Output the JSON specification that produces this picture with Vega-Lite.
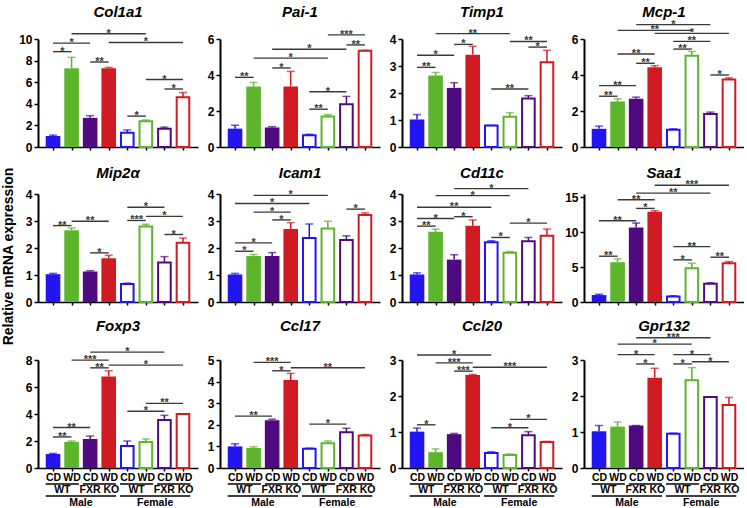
{
"$schema": "https://vega.github.io/schema/vega-lite/v6.json",
"padding": {"left": 1, "top": 4, "right": 0, "bottom": 0},
"title": {"text": "Relative mRNA expression", "orient": "left", "anchor": "middle", "fontSize": 14, "fontWeight": "bold", "font": "Liberation Sans", "color": "black", "offset": 0},
"spacing": 11,
"datasets": {
"bars": [
{"g":"Col1a1","b":1,"m":1.02,"h":1.1},{"g":"Col1a1","b":2,"m":7.3,"h":8.3},{"g":"Col1a1","b":3,"m":2.7,"h":2.9},{"g":"Col1a1","b":4,"m":7.3,"h":7.37},{"g":"Col1a1","b":5,"m":1.33,"h":1.58},{"g":"Col1a1","b":6,"m":2.38,"h":2.5},{"g":"Col1a1","b":7,"m":1.68,"h":1.84},{"g":"Col1a1","b":8,"m":4.6,"h":5.05},
{"g":"Pai-1","b":1,"m":1.02,"h":1.21},{"g":"Pai-1","b":2,"m":3.36,"h":3.59},{"g":"Pai-1","b":3,"m":1.08,"h":1.13},{"g":"Pai-1","b":4,"m":3.36,"h":4.2},{"g":"Pai-1","b":5,"m":0.65,"h":0.71},{"g":"Pai-1","b":6,"m":1.69,"h":1.8},{"g":"Pai-1","b":7,"m":2.38,"h":2.81},{"g":"Pai-1","b":8,"m":5.35,"h":5.37},
{"g":"Timp1","b":1,"m":1.02,"h":1.2},{"g":"Timp1","b":2,"m":2.65,"h":2.76},{"g":"Timp1","b":3,"m":2.19,"h":2.38},{"g":"Timp1","b":4,"m":3.42,"h":3.73},{"g":"Timp1","b":5,"m":0.8,"h":0.8},{"g":"Timp1","b":6,"m":1.12,"h":1.27},{"g":"Timp1","b":7,"m":1.8,"h":1.9},{"g":"Timp1","b":8,"m":3.14,"h":3.58},
{"g":"Mcp-1","b":1,"m":1.01,"h":1.16},{"g":"Mcp-1","b":2,"m":2.53,"h":2.68},{"g":"Mcp-1","b":3,"m":2.68,"h":2.77},{"g":"Mcp-1","b":4,"m":4.43,"h":4.52},{"g":"Mcp-1","b":5,"m":0.96,"h":1.01},{"g":"Mcp-1","b":6,"m":5.07,"h":5.31},{"g":"Mcp-1","b":7,"m":1.83,"h":1.94},{"g":"Mcp-1","b":8,"m":3.75,"h":3.84},
{"g":"Mip2α","b":1,"m":1.03,"h":1.06},{"g":"Mip2α","b":2,"m":2.66,"h":2.74},{"g":"Mip2α","b":3,"m":1.13,"h":1.16},{"g":"Mip2α","b":4,"m":1.62,"h":1.73},{"g":"Mip2α","b":5,"m":0.67,"h":0.7},{"g":"Mip2α","b":6,"m":2.8,"h":2.88},{"g":"Mip2α","b":7,"m":1.46,"h":1.68},{"g":"Mip2α","b":8,"m":2.19,"h":2.37},
{"g":"Icam1","b":1,"m":1.02,"h":1.06},{"g":"Icam1","b":2,"m":1.7,"h":1.76},{"g":"Icam1","b":3,"m":1.7,"h":1.83},{"g":"Icam1","b":4,"m":2.7,"h":2.94},{"g":"Icam1","b":5,"m":2.37,"h":2.89},{"g":"Icam1","b":6,"m":2.72,"h":2.99},{"g":"Icam1","b":7,"m":2.3,"h":2.45},{"g":"Icam1","b":8,"m":3.22,"h":3.3},
{"g":"Cd11c","b":1,"m":1.02,"h":1.08},{"g":"Cd11c","b":2,"m":2.6,"h":2.7},{"g":"Cd11c","b":3,"m":1.57,"h":1.75},{"g":"Cd11c","b":4,"m":2.82,"h":3.04},{"g":"Cd11c","b":5,"m":2.21,"h":2.27},{"g":"Cd11c","b":6,"m":1.82,"h":1.87},{"g":"Cd11c","b":7,"m":2.25,"h":2.39},{"g":"Cd11c","b":8,"m":2.45,"h":2.7},
{"g":"Saa1","b":1,"m":1.0,"h":1.12},{"g":"Saa1","b":2,"m":5.71,"h":6.19},{"g":"Saa1","b":3,"m":10.71,"h":11.33},{"g":"Saa1","b":4,"m":12.95,"h":13.1},{"g":"Saa1","b":5,"m":0.8,"h":0.9},{"g":"Saa1","b":6,"m":4.86,"h":5.57},{"g":"Saa1","b":7,"m":2.62,"h":2.76},{"g":"Saa1","b":8,"m":5.57,"h":5.81},
{"g":"Foxp3","b":1,"m":1.04,"h":1.08},{"g":"Foxp3","b":2,"m":1.93,"h":2.0},{"g":"Foxp3","b":3,"m":2.15,"h":2.37},{"g":"Foxp3","b":4,"m":6.77,"h":7.2},{"g":"Foxp3","b":5,"m":1.63,"h":2.0},{"g":"Foxp3","b":6,"m":1.93,"h":2.15},{"g":"Foxp3","b":7,"m":3.56,"h":3.9},{"g":"Foxp3","b":8,"m":4.0,"h":4.02},
{"g":"Ccl17","b":1,"m":1.0,"h":1.12},{"g":"Ccl17","b":2,"m":0.93,"h":0.98},{"g":"Ccl17","b":3,"m":2.21,"h":2.26},{"g":"Ccl17","b":4,"m":4.07,"h":4.38},{"g":"Ccl17","b":5,"m":0.89,"h":0.92},{"g":"Ccl17","b":6,"m":1.15,"h":1.25},{"g":"Ccl17","b":7,"m":1.65,"h":1.84},{"g":"Ccl17","b":8,"m":1.5,"h":1.55},
{"g":"Ccl20","b":1,"m":1.01,"h":1.11},{"g":"Ccl20","b":2,"m":0.44,"h":0.53},{"g":"Ccl20","b":3,"m":0.94,"h":0.96},{"g":"Ccl20","b":4,"m":2.58,"h":2.6},{"g":"Ccl20","b":5,"m":0.42,"h":0.45},{"g":"Ccl20","b":6,"m":0.36,"h":0.39},{"g":"Ccl20","b":7,"m":0.91,"h":1.01},{"g":"Ccl20","b":8,"m":0.72,"h":0.74},
{"g":"Gpr132","b":1,"m":1.02,"h":1.18},{"g":"Gpr132","b":2,"m":1.15,"h":1.28},{"g":"Gpr132","b":3,"m":1.18,"h":1.18},{"g":"Gpr132","b":4,"m":2.51,"h":2.77},{"g":"Gpr132","b":5,"m":0.95,"h":0.97},{"g":"Gpr132","b":6,"m":2.44,"h":2.79},{"g":"Gpr132","b":7,"m":1.97,"h":1.97},{"g":"Gpr132","b":8,"m":1.75,"h":1.96}
],
"sig": [
{"g":"Col1a1","f":1,"t":2,"y":8.83,"s":"*"},{"g":"Col1a1","f":1,"t":3,"y":9.62,"s":"*"},{"g":"Col1a1","f":3,"t":4,"y":7.87,"s":"**"},{"g":"Col1a1","f":2,"t":6,"y":10.48,"s":"*"},{"g":"Col1a1","f":4,"t":8,"y":9.68,"s":"*"},{"g":"Col1a1","f":5,"t":6,"y":2.86,"s":"*"},{"g":"Col1a1","f":6,"t":8,"y":6.25,"s":"*"},{"g":"Col1a1","f":7,"t":8,"y":5.37,"s":"*"},
{"g":"Pai-1","f":1,"t":2,"y":3.87,"s":"**"},{"g":"Pai-1","f":3,"t":4,"y":4.39,"s":"*"},{"g":"Pai-1","f":2,"t":6,"y":4.94,"s":"*"},{"g":"Pai-1","f":3,"t":7,"y":5.43,"s":"*"},{"g":"Pai-1","f":5,"t":6,"y":2.1,"s":"**"},{"g":"Pai-1","f":5,"t":7,"y":3.07,"s":"*"},{"g":"Pai-1","f":6,"t":8,"y":6.23,"s":"***"},{"g":"Pai-1","f":7,"t":8,"y":5.67,"s":"**"},
{"g":"Timp1","f":1,"t":2,"y":2.95,"s":"**"},{"g":"Timp1","f":1,"t":3,"y":3.4,"s":"*"},{"g":"Timp1","f":3,"t":4,"y":3.8,"s":"*"},{"g":"Timp1","f":2,"t":6,"y":4.2,"s":"**"},{"g":"Timp1","f":5,"t":7,"y":2.15,"s":"**"},{"g":"Timp1","f":6,"t":8,"y":3.91,"s":"**"},{"g":"Timp1","f":7,"t":8,"y":3.7,"s":"*"},
{"g":"Mcp-1","f":1,"t":2,"y":2.82,"s":"**"},{"g":"Mcp-1","f":1,"t":3,"y":3.41,"s":"**"},{"g":"Mcp-1","f":2,"t":4,"y":5.17,"s":"**"},{"g":"Mcp-1","f":3,"t":4,"y":4.65,"s":"**"},{"g":"Mcp-1","f":3,"t":7,"y":6.8,"s":"*"},{"g":"Mcp-1","f":2,"t":6,"y":6.48,"s":"**"},{"g":"Mcp-1","f":4,"t":8,"y":6.31,"s":"*"},{"g":"Mcp-1","f":5,"t":7,"y":5.87,"s":"**"},{"g":"Mcp-1","f":5,"t":6,"y":5.44,"s":"**"},{"g":"Mcp-1","f":7,"t":8,"y":4.0,"s":"*"},
{"g":"Mip2α","f":1,"t":2,"y":2.83,"s":"**"},{"g":"Mip2α","f":2,"t":4,"y":2.99,"s":"**"},{"g":"Mip2α","f":3,"t":4,"y":1.82,"s":"*"},{"g":"Mip2α","f":5,"t":7,"y":3.51,"s":"*"},{"g":"Mip2α","f":5,"t":6,"y":3.02,"s":"***"},{"g":"Mip2α","f":6,"t":8,"y":3.17,"s":"*"},{"g":"Mip2α","f":7,"t":8,"y":2.5,"s":"*"},
{"g":"Icam1","f":1,"t":2,"y":1.88,"s":"*"},{"g":"Icam1","f":1,"t":3,"y":2.19,"s":"*"},{"g":"Icam1","f":3,"t":4,"y":3.04,"s":"*"},{"g":"Icam1","f":2,"t":4,"y":3.33,"s":"*"},{"g":"Icam1","f":1,"t":5,"y":3.65,"s":"*"},{"g":"Icam1","f":2,"t":6,"y":3.95,"s":"*"},{"g":"Icam1","f":7,"t":8,"y":3.44,"s":"*"},
{"g":"Cd11c","f":1,"t":2,"y":2.81,"s":"**"},{"g":"Cd11c","f":1,"t":3,"y":3.09,"s":"*"},{"g":"Cd11c","f":3,"t":4,"y":3.16,"s":"*"},{"g":"Cd11c","f":1,"t":5,"y":3.51,"s":"**"},{"g":"Cd11c","f":2,"t":6,"y":3.94,"s":"*"},{"g":"Cd11c","f":3,"t":7,"y":4.2,"s":"*"},{"g":"Cd11c","f":5,"t":6,"y":2.39,"s":"*"},{"g":"Cd11c","f":6,"t":8,"y":2.92,"s":"*"},
{"g":"Saa1","f":1,"t":2,"y":6.57,"s":"**"},{"g":"Saa1","f":1,"t":3,"y":11.67,"s":"**"},{"g":"Saa1","f":3,"t":4,"y":13.43,"s":"*"},{"g":"Saa1","f":2,"t":4,"y":14.67,"s":"**"},{"g":"Saa1","f":3,"t":7,"y":15.62,"s":"**"},{"g":"Saa1","f":4,"t":8,"y":16.76,"s":"***"},{"g":"Saa1","f":5,"t":6,"y":6.05,"s":"*"},{"g":"Saa1","f":5,"t":7,"y":7.95,"s":"**"},{"g":"Saa1","f":7,"t":8,"y":6.43,"s":"**"},
{"g":"Foxp3","f":1,"t":2,"y":2.3,"s":"**"},{"g":"Foxp3","f":1,"t":3,"y":3.0,"s":"**"},{"g":"Foxp3","f":2,"t":4,"y":7.99,"s":"***"},{"g":"Foxp3","f":3,"t":4,"y":7.42,"s":"**"},{"g":"Foxp3","f":3,"t":7,"y":8.58,"s":"*"},{"g":"Foxp3","f":4,"t":8,"y":7.62,"s":"*"},{"g":"Foxp3","f":5,"t":7,"y":4.2,"s":"*"},{"g":"Foxp3","f":6,"t":8,"y":4.79,"s":"**"},
{"g":"Ccl17","f":1,"t":3,"y":2.4,"s":"**"},{"g":"Ccl17","f":2,"t":4,"y":4.89,"s":"***"},{"g":"Ccl17","f":3,"t":4,"y":4.5,"s":"*"},{"g":"Ccl17","f":4,"t":8,"y":4.64,"s":"**"},{"g":"Ccl17","f":5,"t":7,"y":2.03,"s":"*"},
{"g":"Ccl20","f":1,"t":2,"y":1.2,"s":"*"},{"g":"Ccl20","f":1,"t":5,"y":3.14,"s":"*"},{"g":"Ccl20","f":2,"t":4,"y":2.92,"s":"***"},{"g":"Ccl20","f":3,"t":4,"y":2.69,"s":"***"},{"g":"Ccl20","f":4,"t":8,"y":2.8,"s":"***"},{"g":"Ccl20","f":5,"t":7,"y":1.12,"s":"*"},{"g":"Ccl20","f":6,"t":8,"y":1.35,"s":"*"},
{"g":"Gpr132","f":2,"t":4,"y":3.15,"s":"*"},{"g":"Gpr132","f":3,"t":4,"y":2.89,"s":"*"},{"g":"Gpr132","f":2,"t":6,"y":3.44,"s":"*"},{"g":"Gpr132","f":3,"t":7,"y":3.62,"s":"***"},{"g":"Gpr132","f":5,"t":7,"y":3.15,"s":"*"},{"g":"Gpr132","f":5,"t":6,"y":2.89,"s":"*"},{"g":"Gpr132","f":6,"t":8,"y":2.95,"s":"*"}
],
"grp": [
{"lab":"WT","a":1,"z":2,"tier":1},{"lab":"FXR KO","a":3,"z":4,"tier":1},{"lab":"WT","a":5,"z":6,"tier":1},{"lab":"FXR KO","a":7,"z":8,"tier":1},
{"lab":"Male","a":1,"z":4,"tier":2},{"lab":"Female","a":5,"z":8,"tier":2}
]
},
"vconcat": [
{"hconcat": [
{"width":160,"height":108,"resolve":{"axis":{"x":"independent","y":"independent"}},"layer":[
{"data":{"name":"bars"},"transform":[{"filter":"datum.g == 'Col1a1' && datum.b <= 4"}],"mark":{"type":"bar","orient":"vertical","size":14.6},"encoding":{"x":{"field":"b","type":"quantitative","scale":{"domain":[0.46,8.54],"nice":false,"zero":false},"axis":{"orient":"bottom","values":[1,2,3,4,5,6,7,8],"labels":false,"title":null,"tickSize":3,"minExtent":8,"labelOverlap":false}},"y":{"field":"m","type":"quantitative","stack":null,"scale":{"domain":[0,10],"nice":false},"axis":{"orient":"left","values":[0,2,4,6,8,10],"title":null,"labelOverlap":false}},"color":{"field":"b","type":"ordinal","scale":{"domain":[1,2,3,4,5,6,7,8],"range":["#2314f2","#5cb52b","#4f0a82","#cf1b21","#2314f2","#5cb52b","#4f0a82","#cf1b21"]},"legend":null}}},
{"data":{"name":"bars"},"transform":[{"filter":"datum.g == 'Col1a1' && datum.b > 4"}],"mark":{"type":"bar","orient":"vertical","size":12.6,"fill":"white","strokeWidth":2},"encoding":{"x":{"field":"b","type":"quantitative","axis":null},"y":{"field":"m","type":"quantitative","stack":null,"axis":null},"stroke":{"field":"b","type":"ordinal","scale":{"domain":[1,2,3,4,5,6,7,8],"range":["#2314f2","#5cb52b","#4f0a82","#cf1b21","#2314f2","#5cb52b","#4f0a82","#cf1b21"]},"legend":null}}},
{"data":{"name":"bars"},"transform":[{"filter":"datum.g == 'Col1a1'"}],"mark":{"type":"rule","strokeWidth":1.5},"encoding":{"x":{"field":"b","type":"quantitative","axis":null},"y":{"field":"m","type":"quantitative","axis":null},"y2":{"field":"h"},"color":{"field":"b","type":"ordinal","legend":null}}},
{"data":{"name":"bars"},"transform":[{"filter":"datum.g == 'Col1a1'"}],"mark":{"type":"tick","orient":"horizontal","size":8,"thickness":1.5},"encoding":{"x":{"field":"b","type":"quantitative","axis":null},"y":{"field":"h","type":"quantitative","axis":null},"color":{"field":"b","type":"ordinal","legend":null}}},
{"data":{"name":"sig"},"transform":[{"filter":"datum.g == 'Col1a1'"}],"mark":{"type":"rule","color":"#3a3a3a","strokeWidth":1.4},"encoding":{"x":{"field":"f","type":"quantitative","axis":null},"x2":{"field":"t"},"y":{"field":"y","type":"quantitative","axis":null}}},
{"data":{"name":"sig"},"transform":[{"filter":"datum.g == 'Col1a1'"},{"fold":["f","t"],"as":["k","pos"]}],"mark":{"type":"text","fontSize":11,"fontWeight":"bold","color":"#3a3a3a","baseline":"middle"},"encoding":{"x":{"field":"pos","aggregate":"mean","type":"quantitative","axis":null},"y":{"field":"y","type":"quantitative","axis":null},"text":{"field":"s"},"detail":{"field":"f","type":"nominal"}}},
{"data":{"name":"bars"},"transform":[{"filter":"datum.g == 'Col1a1' && datum.b == 1"}],"mark":{"type":"text","fontSize":15,"fontStyle":"italic","fontWeight":"bold","color":"black","baseline":"alphabetic","dy":-22.5},"encoding":{"x":{"datum":4.5,"axis":null},"y":{"datum":10,"axis":null},"text":{"field":"g"}}}
]},
{"width":160,"height":108,"resolve":{"axis":{"x":"independent","y":"independent"}},"layer":[
{"data":{"name":"bars"},"transform":[{"filter":"datum.g == 'Pai-1' && datum.b <= 4"}],"mark":{"type":"bar","orient":"vertical","size":14.6},"encoding":{"x":{"field":"b","type":"quantitative","scale":{"domain":[0.46,8.54],"nice":false,"zero":false},"axis":{"orient":"bottom","values":[1,2,3,4,5,6,7,8],"labels":false,"title":null,"tickSize":3,"minExtent":8,"labelOverlap":false}},"y":{"field":"m","type":"quantitative","stack":null,"scale":{"domain":[0,6],"nice":false},"axis":{"orient":"left","values":[0,2,4,6],"title":null,"labelOverlap":false}},"color":{"field":"b","type":"ordinal","scale":{"domain":[1,2,3,4,5,6,7,8],"range":["#2314f2","#5cb52b","#4f0a82","#cf1b21","#2314f2","#5cb52b","#4f0a82","#cf1b21"]},"legend":null}}},
{"data":{"name":"bars"},"transform":[{"filter":"datum.g == 'Pai-1' && datum.b > 4"}],"mark":{"type":"bar","orient":"vertical","size":12.6,"fill":"white","strokeWidth":2},"encoding":{"x":{"field":"b","type":"quantitative","axis":null},"y":{"field":"m","type":"quantitative","stack":null,"axis":null},"stroke":{"field":"b","type":"ordinal","scale":{"domain":[1,2,3,4,5,6,7,8],"range":["#2314f2","#5cb52b","#4f0a82","#cf1b21","#2314f2","#5cb52b","#4f0a82","#cf1b21"]},"legend":null}}},
{"data":{"name":"bars"},"transform":[{"filter":"datum.g == 'Pai-1'"}],"mark":{"type":"rule","strokeWidth":1.5},"encoding":{"x":{"field":"b","type":"quantitative","axis":null},"y":{"field":"m","type":"quantitative","axis":null},"y2":{"field":"h"},"color":{"field":"b","type":"ordinal","legend":null}}},
{"data":{"name":"bars"},"transform":[{"filter":"datum.g == 'Pai-1'"}],"mark":{"type":"tick","orient":"horizontal","size":8,"thickness":1.5},"encoding":{"x":{"field":"b","type":"quantitative","axis":null},"y":{"field":"h","type":"quantitative","axis":null},"color":{"field":"b","type":"ordinal","legend":null}}},
{"data":{"name":"sig"},"transform":[{"filter":"datum.g == 'Pai-1'"}],"mark":{"type":"rule","color":"#3a3a3a","strokeWidth":1.4},"encoding":{"x":{"field":"f","type":"quantitative","axis":null},"x2":{"field":"t"},"y":{"field":"y","type":"quantitative","axis":null}}},
{"data":{"name":"sig"},"transform":[{"filter":"datum.g == 'Pai-1'"},{"fold":["f","t"],"as":["k","pos"]}],"mark":{"type":"text","fontSize":11,"fontWeight":"bold","color":"#3a3a3a","baseline":"middle"},"encoding":{"x":{"field":"pos","aggregate":"mean","type":"quantitative","axis":null},"y":{"field":"y","type":"quantitative","axis":null},"text":{"field":"s"},"detail":{"field":"f","type":"nominal"}}},
{"data":{"name":"bars"},"transform":[{"filter":"datum.g == 'Pai-1' && datum.b == 1"}],"mark":{"type":"text","fontSize":15,"fontStyle":"italic","fontWeight":"bold","color":"black","baseline":"alphabetic","dy":-22.5},"encoding":{"x":{"datum":4.5,"axis":null},"y":{"datum":6,"axis":null},"text":{"field":"g"}}}
]},
{"width":160,"height":108,"resolve":{"axis":{"x":"independent","y":"independent"}},"layer":[
{"data":{"name":"bars"},"transform":[{"filter":"datum.g == 'Timp1' && datum.b <= 4"}],"mark":{"type":"bar","orient":"vertical","size":14.6},"encoding":{"x":{"field":"b","type":"quantitative","scale":{"domain":[0.46,8.54],"nice":false,"zero":false},"axis":{"orient":"bottom","values":[1,2,3,4,5,6,7,8],"labels":false,"title":null,"tickSize":3,"minExtent":8,"labelOverlap":false}},"y":{"field":"m","type":"quantitative","stack":null,"scale":{"domain":[0,4],"nice":false},"axis":{"orient":"left","values":[0,1,2,3,4],"title":null,"labelOverlap":false}},"color":{"field":"b","type":"ordinal","scale":{"domain":[1,2,3,4,5,6,7,8],"range":["#2314f2","#5cb52b","#4f0a82","#cf1b21","#2314f2","#5cb52b","#4f0a82","#cf1b21"]},"legend":null}}},
{"data":{"name":"bars"},"transform":[{"filter":"datum.g == 'Timp1' && datum.b > 4"}],"mark":{"type":"bar","orient":"vertical","size":12.6,"fill":"white","strokeWidth":2},"encoding":{"x":{"field":"b","type":"quantitative","axis":null},"y":{"field":"m","type":"quantitative","stack":null,"axis":null},"stroke":{"field":"b","type":"ordinal","scale":{"domain":[1,2,3,4,5,6,7,8],"range":["#2314f2","#5cb52b","#4f0a82","#cf1b21","#2314f2","#5cb52b","#4f0a82","#cf1b21"]},"legend":null}}},
{"data":{"name":"bars"},"transform":[{"filter":"datum.g == 'Timp1'"}],"mark":{"type":"rule","strokeWidth":1.5},"encoding":{"x":{"field":"b","type":"quantitative","axis":null},"y":{"field":"m","type":"quantitative","axis":null},"y2":{"field":"h"},"color":{"field":"b","type":"ordinal","legend":null}}},
{"data":{"name":"bars"},"transform":[{"filter":"datum.g == 'Timp1'"}],"mark":{"type":"tick","orient":"horizontal","size":8,"thickness":1.5},"encoding":{"x":{"field":"b","type":"quantitative","axis":null},"y":{"field":"h","type":"quantitative","axis":null},"color":{"field":"b","type":"ordinal","legend":null}}},
{"data":{"name":"sig"},"transform":[{"filter":"datum.g == 'Timp1'"}],"mark":{"type":"rule","color":"#3a3a3a","strokeWidth":1.4},"encoding":{"x":{"field":"f","type":"quantitative","axis":null},"x2":{"field":"t"},"y":{"field":"y","type":"quantitative","axis":null}}},
{"data":{"name":"sig"},"transform":[{"filter":"datum.g == 'Timp1'"},{"fold":["f","t"],"as":["k","pos"]}],"mark":{"type":"text","fontSize":11,"fontWeight":"bold","color":"#3a3a3a","baseline":"middle"},"encoding":{"x":{"field":"pos","aggregate":"mean","type":"quantitative","axis":null},"y":{"field":"y","type":"quantitative","axis":null},"text":{"field":"s"},"detail":{"field":"f","type":"nominal"}}},
{"data":{"name":"bars"},"transform":[{"filter":"datum.g == 'Timp1' && datum.b == 1"}],"mark":{"type":"text","fontSize":15,"fontStyle":"italic","fontWeight":"bold","color":"black","baseline":"alphabetic","dy":-22.5},"encoding":{"x":{"datum":4.5,"axis":null},"y":{"datum":4,"axis":null},"text":{"field":"g"}}}
]},
{"width":160,"height":108,"resolve":{"axis":{"x":"independent","y":"independent"}},"layer":[
{"data":{"name":"bars"},"transform":[{"filter":"datum.g == 'Mcp-1' && datum.b <= 4"}],"mark":{"type":"bar","orient":"vertical","size":14.6},"encoding":{"x":{"field":"b","type":"quantitative","scale":{"domain":[0.46,8.54],"nice":false,"zero":false},"axis":{"orient":"bottom","values":[1,2,3,4,5,6,7,8],"labels":false,"title":null,"tickSize":3,"minExtent":8,"labelOverlap":false}},"y":{"field":"m","type":"quantitative","stack":null,"scale":{"domain":[0,6],"nice":false},"axis":{"orient":"left","values":[0,2,4,6],"title":null,"labelOverlap":false}},"color":{"field":"b","type":"ordinal","scale":{"domain":[1,2,3,4,5,6,7,8],"range":["#2314f2","#5cb52b","#4f0a82","#cf1b21","#2314f2","#5cb52b","#4f0a82","#cf1b21"]},"legend":null}}},
{"data":{"name":"bars"},"transform":[{"filter":"datum.g == 'Mcp-1' && datum.b > 4"}],"mark":{"type":"bar","orient":"vertical","size":12.6,"fill":"white","strokeWidth":2},"encoding":{"x":{"field":"b","type":"quantitative","axis":null},"y":{"field":"m","type":"quantitative","stack":null,"axis":null},"stroke":{"field":"b","type":"ordinal","scale":{"domain":[1,2,3,4,5,6,7,8],"range":["#2314f2","#5cb52b","#4f0a82","#cf1b21","#2314f2","#5cb52b","#4f0a82","#cf1b21"]},"legend":null}}},
{"data":{"name":"bars"},"transform":[{"filter":"datum.g == 'Mcp-1'"}],"mark":{"type":"rule","strokeWidth":1.5},"encoding":{"x":{"field":"b","type":"quantitative","axis":null},"y":{"field":"m","type":"quantitative","axis":null},"y2":{"field":"h"},"color":{"field":"b","type":"ordinal","legend":null}}},
{"data":{"name":"bars"},"transform":[{"filter":"datum.g == 'Mcp-1'"}],"mark":{"type":"tick","orient":"horizontal","size":8,"thickness":1.5},"encoding":{"x":{"field":"b","type":"quantitative","axis":null},"y":{"field":"h","type":"quantitative","axis":null},"color":{"field":"b","type":"ordinal","legend":null}}},
{"data":{"name":"sig"},"transform":[{"filter":"datum.g == 'Mcp-1'"}],"mark":{"type":"rule","color":"#3a3a3a","strokeWidth":1.4},"encoding":{"x":{"field":"f","type":"quantitative","axis":null},"x2":{"field":"t"},"y":{"field":"y","type":"quantitative","axis":null}}},
{"data":{"name":"sig"},"transform":[{"filter":"datum.g == 'Mcp-1'"},{"fold":["f","t"],"as":["k","pos"]}],"mark":{"type":"text","fontSize":11,"fontWeight":"bold","color":"#3a3a3a","baseline":"middle"},"encoding":{"x":{"field":"pos","aggregate":"mean","type":"quantitative","axis":null},"y":{"field":"y","type":"quantitative","axis":null},"text":{"field":"s"},"detail":{"field":"f","type":"nominal"}}},
{"data":{"name":"bars"},"transform":[{"filter":"datum.g == 'Mcp-1' && datum.b == 1"}],"mark":{"type":"text","fontSize":15,"fontStyle":"italic","fontWeight":"bold","color":"black","baseline":"alphabetic","dy":-22.5},"encoding":{"x":{"datum":4.5,"axis":null},"y":{"datum":6,"axis":null},"text":{"field":"g"}}}
]}
], "spacing": 22, "bounds": "flush"},
{"hconcat": [
{"width":160,"height":108,"resolve":{"axis":{"x":"independent","y":"independent"}},"layer":[
{"data":{"name":"bars"},"transform":[{"filter":"datum.g == 'Mip2α' && datum.b <= 4"}],"mark":{"type":"bar","orient":"vertical","size":14.6},"encoding":{"x":{"field":"b","type":"quantitative","scale":{"domain":[0.46,8.54],"nice":false,"zero":false},"axis":{"orient":"bottom","values":[1,2,3,4,5,6,7,8],"labels":false,"title":null,"tickSize":3,"labelOverlap":false}},"y":{"field":"m","type":"quantitative","stack":null,"scale":{"domain":[0,4],"nice":false},"axis":{"orient":"left","values":[0,1,2,3,4],"title":null,"labelOverlap":false}},"color":{"field":"b","type":"ordinal","scale":{"domain":[1,2,3,4,5,6,7,8],"range":["#2314f2","#5cb52b","#4f0a82","#cf1b21","#2314f2","#5cb52b","#4f0a82","#cf1b21"]},"legend":null}}},
{"data":{"name":"bars"},"transform":[{"filter":"datum.g == 'Mip2α' && datum.b > 4"}],"mark":{"type":"bar","orient":"vertical","size":12.6,"fill":"white","strokeWidth":2},"encoding":{"x":{"field":"b","type":"quantitative","axis":null},"y":{"field":"m","type":"quantitative","stack":null,"axis":null},"stroke":{"field":"b","type":"ordinal","scale":{"domain":[1,2,3,4,5,6,7,8],"range":["#2314f2","#5cb52b","#4f0a82","#cf1b21","#2314f2","#5cb52b","#4f0a82","#cf1b21"]},"legend":null}}},
{"data":{"name":"bars"},"transform":[{"filter":"datum.g == 'Mip2α'"}],"mark":{"type":"rule","strokeWidth":1.5},"encoding":{"x":{"field":"b","type":"quantitative","axis":null},"y":{"field":"m","type":"quantitative","axis":null},"y2":{"field":"h"},"color":{"field":"b","type":"ordinal","legend":null}}},
{"data":{"name":"bars"},"transform":[{"filter":"datum.g == 'Mip2α'"}],"mark":{"type":"tick","orient":"horizontal","size":8,"thickness":1.5},"encoding":{"x":{"field":"b","type":"quantitative","axis":null},"y":{"field":"h","type":"quantitative","axis":null},"color":{"field":"b","type":"ordinal","legend":null}}},
{"data":{"name":"sig"},"transform":[{"filter":"datum.g == 'Mip2α'"}],"mark":{"type":"rule","color":"#3a3a3a","strokeWidth":1.4},"encoding":{"x":{"field":"f","type":"quantitative","axis":null},"x2":{"field":"t"},"y":{"field":"y","type":"quantitative","axis":null}}},
{"data":{"name":"sig"},"transform":[{"filter":"datum.g == 'Mip2α'"},{"fold":["f","t"],"as":["k","pos"]}],"mark":{"type":"text","fontSize":11,"fontWeight":"bold","color":"#3a3a3a","baseline":"middle"},"encoding":{"x":{"field":"pos","aggregate":"mean","type":"quantitative","axis":null},"y":{"field":"y","type":"quantitative","axis":null},"text":{"field":"s"},"detail":{"field":"f","type":"nominal"}}},
{"data":{"name":"bars"},"transform":[{"filter":"datum.g == 'Mip2α' && datum.b == 1"}],"mark":{"type":"text","fontSize":15,"fontStyle":"italic","fontWeight":"bold","color":"black","baseline":"alphabetic","dy":-16},"encoding":{"x":{"datum":4.5,"axis":null},"y":{"datum":4,"axis":null},"text":{"field":"g"}}}
]},
{"width":160,"height":108,"resolve":{"axis":{"x":"independent","y":"independent"}},"layer":[
{"data":{"name":"bars"},"transform":[{"filter":"datum.g == 'Icam1' && datum.b <= 4"}],"mark":{"type":"bar","orient":"vertical","size":14.6},"encoding":{"x":{"field":"b","type":"quantitative","scale":{"domain":[0.46,8.54],"nice":false,"zero":false},"axis":{"orient":"bottom","values":[1,2,3,4,5,6,7,8],"labels":false,"title":null,"tickSize":3,"labelOverlap":false}},"y":{"field":"m","type":"quantitative","stack":null,"scale":{"domain":[0,4],"nice":false},"axis":{"orient":"left","values":[0,1,2,3,4],"title":null,"labelOverlap":false}},"color":{"field":"b","type":"ordinal","scale":{"domain":[1,2,3,4,5,6,7,8],"range":["#2314f2","#5cb52b","#4f0a82","#cf1b21","#2314f2","#5cb52b","#4f0a82","#cf1b21"]},"legend":null}}},
{"data":{"name":"bars"},"transform":[{"filter":"datum.g == 'Icam1' && datum.b > 4"}],"mark":{"type":"bar","orient":"vertical","size":12.6,"fill":"white","strokeWidth":2},"encoding":{"x":{"field":"b","type":"quantitative","axis":null},"y":{"field":"m","type":"quantitative","stack":null,"axis":null},"stroke":{"field":"b","type":"ordinal","scale":{"domain":[1,2,3,4,5,6,7,8],"range":["#2314f2","#5cb52b","#4f0a82","#cf1b21","#2314f2","#5cb52b","#4f0a82","#cf1b21"]},"legend":null}}},
{"data":{"name":"bars"},"transform":[{"filter":"datum.g == 'Icam1'"}],"mark":{"type":"rule","strokeWidth":1.5},"encoding":{"x":{"field":"b","type":"quantitative","axis":null},"y":{"field":"m","type":"quantitative","axis":null},"y2":{"field":"h"},"color":{"field":"b","type":"ordinal","legend":null}}},
{"data":{"name":"bars"},"transform":[{"filter":"datum.g == 'Icam1'"}],"mark":{"type":"tick","orient":"horizontal","size":8,"thickness":1.5},"encoding":{"x":{"field":"b","type":"quantitative","axis":null},"y":{"field":"h","type":"quantitative","axis":null},"color":{"field":"b","type":"ordinal","legend":null}}},
{"data":{"name":"sig"},"transform":[{"filter":"datum.g == 'Icam1'"}],"mark":{"type":"rule","color":"#3a3a3a","strokeWidth":1.4},"encoding":{"x":{"field":"f","type":"quantitative","axis":null},"x2":{"field":"t"},"y":{"field":"y","type":"quantitative","axis":null}}},
{"data":{"name":"sig"},"transform":[{"filter":"datum.g == 'Icam1'"},{"fold":["f","t"],"as":["k","pos"]}],"mark":{"type":"text","fontSize":11,"fontWeight":"bold","color":"#3a3a3a","baseline":"middle"},"encoding":{"x":{"field":"pos","aggregate":"mean","type":"quantitative","axis":null},"y":{"field":"y","type":"quantitative","axis":null},"text":{"field":"s"},"detail":{"field":"f","type":"nominal"}}},
{"data":{"name":"bars"},"transform":[{"filter":"datum.g == 'Icam1' && datum.b == 1"}],"mark":{"type":"text","fontSize":15,"fontStyle":"italic","fontWeight":"bold","color":"black","baseline":"alphabetic","dy":-16},"encoding":{"x":{"datum":4.5,"axis":null},"y":{"datum":4,"axis":null},"text":{"field":"g"}}}
]},
{"width":160,"height":108,"resolve":{"axis":{"x":"independent","y":"independent"}},"layer":[
{"data":{"name":"bars"},"transform":[{"filter":"datum.g == 'Cd11c' && datum.b <= 4"}],"mark":{"type":"bar","orient":"vertical","size":14.6},"encoding":{"x":{"field":"b","type":"quantitative","scale":{"domain":[0.46,8.54],"nice":false,"zero":false},"axis":{"orient":"bottom","values":[1,2,3,4,5,6,7,8],"labels":false,"title":null,"tickSize":3,"labelOverlap":false}},"y":{"field":"m","type":"quantitative","stack":null,"scale":{"domain":[0,4],"nice":false},"axis":{"orient":"left","values":[0,1,2,3,4],"title":null,"labelOverlap":false}},"color":{"field":"b","type":"ordinal","scale":{"domain":[1,2,3,4,5,6,7,8],"range":["#2314f2","#5cb52b","#4f0a82","#cf1b21","#2314f2","#5cb52b","#4f0a82","#cf1b21"]},"legend":null}}},
{"data":{"name":"bars"},"transform":[{"filter":"datum.g == 'Cd11c' && datum.b > 4"}],"mark":{"type":"bar","orient":"vertical","size":12.6,"fill":"white","strokeWidth":2},"encoding":{"x":{"field":"b","type":"quantitative","axis":null},"y":{"field":"m","type":"quantitative","stack":null,"axis":null},"stroke":{"field":"b","type":"ordinal","scale":{"domain":[1,2,3,4,5,6,7,8],"range":["#2314f2","#5cb52b","#4f0a82","#cf1b21","#2314f2","#5cb52b","#4f0a82","#cf1b21"]},"legend":null}}},
{"data":{"name":"bars"},"transform":[{"filter":"datum.g == 'Cd11c'"}],"mark":{"type":"rule","strokeWidth":1.5},"encoding":{"x":{"field":"b","type":"quantitative","axis":null},"y":{"field":"m","type":"quantitative","axis":null},"y2":{"field":"h"},"color":{"field":"b","type":"ordinal","legend":null}}},
{"data":{"name":"bars"},"transform":[{"filter":"datum.g == 'Cd11c'"}],"mark":{"type":"tick","orient":"horizontal","size":8,"thickness":1.5},"encoding":{"x":{"field":"b","type":"quantitative","axis":null},"y":{"field":"h","type":"quantitative","axis":null},"color":{"field":"b","type":"ordinal","legend":null}}},
{"data":{"name":"sig"},"transform":[{"filter":"datum.g == 'Cd11c'"}],"mark":{"type":"rule","color":"#3a3a3a","strokeWidth":1.4},"encoding":{"x":{"field":"f","type":"quantitative","axis":null},"x2":{"field":"t"},"y":{"field":"y","type":"quantitative","axis":null}}},
{"data":{"name":"sig"},"transform":[{"filter":"datum.g == 'Cd11c'"},{"fold":["f","t"],"as":["k","pos"]}],"mark":{"type":"text","fontSize":11,"fontWeight":"bold","color":"#3a3a3a","baseline":"middle"},"encoding":{"x":{"field":"pos","aggregate":"mean","type":"quantitative","axis":null},"y":{"field":"y","type":"quantitative","axis":null},"text":{"field":"s"},"detail":{"field":"f","type":"nominal"}}},
{"data":{"name":"bars"},"transform":[{"filter":"datum.g == 'Cd11c' && datum.b == 1"}],"mark":{"type":"text","fontSize":15,"fontStyle":"italic","fontWeight":"bold","color":"black","baseline":"alphabetic","dy":-16},"encoding":{"x":{"datum":4.5,"axis":null},"y":{"datum":4,"axis":null},"text":{"field":"g"}}}
]},
{"width":160,"height":108,"resolve":{"axis":{"x":"independent","y":"independent"}},"layer":[
{"data":{"name":"bars"},"transform":[{"filter":"datum.g == 'Saa1' && datum.b <= 4"}],"mark":{"type":"bar","orient":"vertical","size":14.6},"encoding":{"x":{"field":"b","type":"quantitative","scale":{"domain":[0.46,8.54],"nice":false,"zero":false},"axis":{"orient":"bottom","values":[1,2,3,4,5,6,7,8],"labels":false,"title":null,"tickSize":3,"labelOverlap":false}},"y":{"field":"m","type":"quantitative","stack":null,"scale":{"domain":[0,15.5],"nice":false},"axis":{"orient":"left","values":[0,5,10,15],"title":null,"labelOverlap":false}},"color":{"field":"b","type":"ordinal","scale":{"domain":[1,2,3,4,5,6,7,8],"range":["#2314f2","#5cb52b","#4f0a82","#cf1b21","#2314f2","#5cb52b","#4f0a82","#cf1b21"]},"legend":null}}},
{"data":{"name":"bars"},"transform":[{"filter":"datum.g == 'Saa1' && datum.b > 4"}],"mark":{"type":"bar","orient":"vertical","size":12.6,"fill":"white","strokeWidth":2},"encoding":{"x":{"field":"b","type":"quantitative","axis":null},"y":{"field":"m","type":"quantitative","stack":null,"axis":null},"stroke":{"field":"b","type":"ordinal","scale":{"domain":[1,2,3,4,5,6,7,8],"range":["#2314f2","#5cb52b","#4f0a82","#cf1b21","#2314f2","#5cb52b","#4f0a82","#cf1b21"]},"legend":null}}},
{"data":{"name":"bars"},"transform":[{"filter":"datum.g == 'Saa1'"}],"mark":{"type":"rule","strokeWidth":1.5},"encoding":{"x":{"field":"b","type":"quantitative","axis":null},"y":{"field":"m","type":"quantitative","axis":null},"y2":{"field":"h"},"color":{"field":"b","type":"ordinal","legend":null}}},
{"data":{"name":"bars"},"transform":[{"filter":"datum.g == 'Saa1'"}],"mark":{"type":"tick","orient":"horizontal","size":8,"thickness":1.5},"encoding":{"x":{"field":"b","type":"quantitative","axis":null},"y":{"field":"h","type":"quantitative","axis":null},"color":{"field":"b","type":"ordinal","legend":null}}},
{"data":{"name":"sig"},"transform":[{"filter":"datum.g == 'Saa1'"}],"mark":{"type":"rule","color":"#3a3a3a","strokeWidth":1.4},"encoding":{"x":{"field":"f","type":"quantitative","axis":null},"x2":{"field":"t"},"y":{"field":"y","type":"quantitative","axis":null}}},
{"data":{"name":"sig"},"transform":[{"filter":"datum.g == 'Saa1'"},{"fold":["f","t"],"as":["k","pos"]}],"mark":{"type":"text","fontSize":11,"fontWeight":"bold","color":"#3a3a3a","baseline":"middle"},"encoding":{"x":{"field":"pos","aggregate":"mean","type":"quantitative","axis":null},"y":{"field":"y","type":"quantitative","axis":null},"text":{"field":"s"},"detail":{"field":"f","type":"nominal"}}},
{"data":{"name":"bars"},"transform":[{"filter":"datum.g == 'Saa1' && datum.b == 1"}],"mark":{"type":"text","fontSize":15,"fontStyle":"italic","fontWeight":"bold","color":"black","baseline":"alphabetic","dy":-16},"encoding":{"x":{"datum":4.5,"axis":null},"y":{"datum":15.5,"axis":null},"text":{"field":"g"}}}
]}
], "spacing": 22, "bounds": "flush"},
{"hconcat": [
{"width":160,"height":108,"resolve":{"axis":{"x":"independent","y":"independent"}},"layer":[
{"data":{"name":"bars"},"transform":[{"filter":"datum.g == 'Foxp3' && datum.b <= 4"}],"mark":{"type":"bar","orient":"vertical","size":14.6},"encoding":{"x":{"field":"b","type":"quantitative","scale":{"domain":[0.46,8.54],"nice":false,"zero":false},"axis":{"orient":"bottom","values":[1,2,3,4,5,6,7,8],"labelExpr":"datum.value % 2 == 1 ? 'CD' : 'WD'","labelFontSize":10.5,"labelPadding":1,"title":null,"tickSize":3,"labelOverlap":false,"labelFlush":false}},"y":{"field":"m","type":"quantitative","stack":null,"scale":{"domain":[0,8],"nice":false},"axis":{"orient":"left","values":[0,2,4,6,8],"title":null,"labelOverlap":false}},"color":{"field":"b","type":"ordinal","scale":{"domain":[1,2,3,4,5,6,7,8],"range":["#2314f2","#5cb52b","#4f0a82","#cf1b21","#2314f2","#5cb52b","#4f0a82","#cf1b21"]},"legend":null}}},
{"data":{"name":"bars"},"transform":[{"filter":"datum.g == 'Foxp3' && datum.b > 4"}],"mark":{"type":"bar","orient":"vertical","size":12.6,"fill":"white","strokeWidth":2},"encoding":{"x":{"field":"b","type":"quantitative","axis":null},"y":{"field":"m","type":"quantitative","stack":null,"axis":null},"stroke":{"field":"b","type":"ordinal","scale":{"domain":[1,2,3,4,5,6,7,8],"range":["#2314f2","#5cb52b","#4f0a82","#cf1b21","#2314f2","#5cb52b","#4f0a82","#cf1b21"]},"legend":null}}},
{"data":{"name":"bars"},"transform":[{"filter":"datum.g == 'Foxp3'"}],"mark":{"type":"rule","strokeWidth":1.5},"encoding":{"x":{"field":"b","type":"quantitative","axis":null},"y":{"field":"m","type":"quantitative","axis":null},"y2":{"field":"h"},"color":{"field":"b","type":"ordinal","legend":null}}},
{"data":{"name":"bars"},"transform":[{"filter":"datum.g == 'Foxp3'"}],"mark":{"type":"tick","orient":"horizontal","size":8,"thickness":1.5},"encoding":{"x":{"field":"b","type":"quantitative","axis":null},"y":{"field":"h","type":"quantitative","axis":null},"color":{"field":"b","type":"ordinal","legend":null}}},
{"data":{"name":"sig"},"transform":[{"filter":"datum.g == 'Foxp3'"}],"mark":{"type":"rule","color":"#3a3a3a","strokeWidth":1.4},"encoding":{"x":{"field":"f","type":"quantitative","axis":null},"x2":{"field":"t"},"y":{"field":"y","type":"quantitative","axis":null}}},
{"data":{"name":"sig"},"transform":[{"filter":"datum.g == 'Foxp3'"},{"fold":["f","t"],"as":["k","pos"]}],"mark":{"type":"text","fontSize":11,"fontWeight":"bold","color":"#3a3a3a","baseline":"middle"},"encoding":{"x":{"field":"pos","aggregate":"mean","type":"quantitative","axis":null},"y":{"field":"y","type":"quantitative","axis":null},"text":{"field":"s"},"detail":{"field":"f","type":"nominal"}}},
{"data":{"name":"bars"},"transform":[{"filter":"datum.g == 'Foxp3' && datum.b == 1"}],"mark":{"type":"text","fontSize":15,"fontStyle":"italic","fontWeight":"bold","color":"black","baseline":"alphabetic","dy":-29},"encoding":{"x":{"datum":4.5,"axis":null},"y":{"datum":8,"axis":null},"text":{"field":"g"}}},
{"data":{"name":"grp"},"transform":[{"filter":"datum.tier == 1"}],"mark":{"type":"rule","color":"black","strokeWidth":1.3,"xOffset":-7.3,"x2Offset":7.3,"yOffset":16},"encoding":{"x":{"field":"a","type":"quantitative","axis":null},"x2":{"field":"z"},"y":{"datum":0,"axis":null}}},
{"data":{"name":"grp"},"transform":[{"filter":"datum.tier == 2"}],"mark":{"type":"rule","color":"black","strokeWidth":1.3,"xOffset":-7.3,"x2Offset":7.3,"yOffset":28},"encoding":{"x":{"field":"a","type":"quantitative","axis":null},"x2":{"field":"z"},"y":{"datum":0,"axis":null}}},
{"data":{"name":"grp"},"transform":[{"filter":"datum.tier == 1"},{"fold":["a","z"],"as":["k","pos"]}],"mark":{"type":"text","fontSize":10.5,"fontWeight":"bold","color":"black","baseline":"alphabetic","dy":25},"encoding":{"x":{"field":"pos","aggregate":"mean","type":"quantitative","axis":null},"y":{"datum":0,"axis":null},"text":{"field":"lab"},"detail":{"field":"a","type":"nominal"}}},
{"data":{"name":"grp"},"transform":[{"filter":"datum.tier == 2"},{"fold":["a","z"],"as":["k","pos"]}],"mark":{"type":"text","fontSize":10.5,"fontWeight":"bold","color":"black","baseline":"alphabetic","dy":38},"encoding":{"x":{"field":"pos","aggregate":"mean","type":"quantitative","axis":null},"y":{"datum":0,"axis":null},"text":{"field":"lab"},"detail":{"field":"a","type":"nominal"}}}
]},
{"width":160,"height":108,"resolve":{"axis":{"x":"independent","y":"independent"}},"layer":[
{"data":{"name":"bars"},"transform":[{"filter":"datum.g == 'Ccl17' && datum.b <= 4"}],"mark":{"type":"bar","orient":"vertical","size":14.6},"encoding":{"x":{"field":"b","type":"quantitative","scale":{"domain":[0.46,8.54],"nice":false,"zero":false},"axis":{"orient":"bottom","values":[1,2,3,4,5,6,7,8],"labelExpr":"datum.value % 2 == 1 ? 'CD' : 'WD'","labelFontSize":10.5,"labelPadding":1,"title":null,"tickSize":3,"labelOverlap":false,"labelFlush":false}},"y":{"field":"m","type":"quantitative","stack":null,"scale":{"domain":[0,5],"nice":false},"axis":{"orient":"left","values":[0,1,2,3,4,5],"title":null,"labelOverlap":false}},"color":{"field":"b","type":"ordinal","scale":{"domain":[1,2,3,4,5,6,7,8],"range":["#2314f2","#5cb52b","#4f0a82","#cf1b21","#2314f2","#5cb52b","#4f0a82","#cf1b21"]},"legend":null}}},
{"data":{"name":"bars"},"transform":[{"filter":"datum.g == 'Ccl17' && datum.b > 4"}],"mark":{"type":"bar","orient":"vertical","size":12.6,"fill":"white","strokeWidth":2},"encoding":{"x":{"field":"b","type":"quantitative","axis":null},"y":{"field":"m","type":"quantitative","stack":null,"axis":null},"stroke":{"field":"b","type":"ordinal","scale":{"domain":[1,2,3,4,5,6,7,8],"range":["#2314f2","#5cb52b","#4f0a82","#cf1b21","#2314f2","#5cb52b","#4f0a82","#cf1b21"]},"legend":null}}},
{"data":{"name":"bars"},"transform":[{"filter":"datum.g == 'Ccl17'"}],"mark":{"type":"rule","strokeWidth":1.5},"encoding":{"x":{"field":"b","type":"quantitative","axis":null},"y":{"field":"m","type":"quantitative","axis":null},"y2":{"field":"h"},"color":{"field":"b","type":"ordinal","legend":null}}},
{"data":{"name":"bars"},"transform":[{"filter":"datum.g == 'Ccl17'"}],"mark":{"type":"tick","orient":"horizontal","size":8,"thickness":1.5},"encoding":{"x":{"field":"b","type":"quantitative","axis":null},"y":{"field":"h","type":"quantitative","axis":null},"color":{"field":"b","type":"ordinal","legend":null}}},
{"data":{"name":"sig"},"transform":[{"filter":"datum.g == 'Ccl17'"}],"mark":{"type":"rule","color":"#3a3a3a","strokeWidth":1.4},"encoding":{"x":{"field":"f","type":"quantitative","axis":null},"x2":{"field":"t"},"y":{"field":"y","type":"quantitative","axis":null}}},
{"data":{"name":"sig"},"transform":[{"filter":"datum.g == 'Ccl17'"},{"fold":["f","t"],"as":["k","pos"]}],"mark":{"type":"text","fontSize":11,"fontWeight":"bold","color":"#3a3a3a","baseline":"middle"},"encoding":{"x":{"field":"pos","aggregate":"mean","type":"quantitative","axis":null},"y":{"field":"y","type":"quantitative","axis":null},"text":{"field":"s"},"detail":{"field":"f","type":"nominal"}}},
{"data":{"name":"bars"},"transform":[{"filter":"datum.g == 'Ccl17' && datum.b == 1"}],"mark":{"type":"text","fontSize":15,"fontStyle":"italic","fontWeight":"bold","color":"black","baseline":"alphabetic","dy":-29},"encoding":{"x":{"datum":4.5,"axis":null},"y":{"datum":5,"axis":null},"text":{"field":"g"}}},
{"data":{"name":"grp"},"transform":[{"filter":"datum.tier == 1"}],"mark":{"type":"rule","color":"black","strokeWidth":1.3,"xOffset":-7.3,"x2Offset":7.3,"yOffset":16},"encoding":{"x":{"field":"a","type":"quantitative","axis":null},"x2":{"field":"z"},"y":{"datum":0,"axis":null}}},
{"data":{"name":"grp"},"transform":[{"filter":"datum.tier == 2"}],"mark":{"type":"rule","color":"black","strokeWidth":1.3,"xOffset":-7.3,"x2Offset":7.3,"yOffset":28},"encoding":{"x":{"field":"a","type":"quantitative","axis":null},"x2":{"field":"z"},"y":{"datum":0,"axis":null}}},
{"data":{"name":"grp"},"transform":[{"filter":"datum.tier == 1"},{"fold":["a","z"],"as":["k","pos"]}],"mark":{"type":"text","fontSize":10.5,"fontWeight":"bold","color":"black","baseline":"alphabetic","dy":25},"encoding":{"x":{"field":"pos","aggregate":"mean","type":"quantitative","axis":null},"y":{"datum":0,"axis":null},"text":{"field":"lab"},"detail":{"field":"a","type":"nominal"}}},
{"data":{"name":"grp"},"transform":[{"filter":"datum.tier == 2"},{"fold":["a","z"],"as":["k","pos"]}],"mark":{"type":"text","fontSize":10.5,"fontWeight":"bold","color":"black","baseline":"alphabetic","dy":38},"encoding":{"x":{"field":"pos","aggregate":"mean","type":"quantitative","axis":null},"y":{"datum":0,"axis":null},"text":{"field":"lab"},"detail":{"field":"a","type":"nominal"}}}
]},
{"width":160,"height":108,"resolve":{"axis":{"x":"independent","y":"independent"}},"layer":[
{"data":{"name":"bars"},"transform":[{"filter":"datum.g == 'Ccl20' && datum.b <= 4"}],"mark":{"type":"bar","orient":"vertical","size":14.6},"encoding":{"x":{"field":"b","type":"quantitative","scale":{"domain":[0.46,8.54],"nice":false,"zero":false},"axis":{"orient":"bottom","values":[1,2,3,4,5,6,7,8],"labelExpr":"datum.value % 2 == 1 ? 'CD' : 'WD'","labelFontSize":10.5,"labelPadding":1,"title":null,"tickSize":3,"labelOverlap":false,"labelFlush":false}},"y":{"field":"m","type":"quantitative","stack":null,"scale":{"domain":[0,3],"nice":false},"axis":{"orient":"left","values":[0,1,2,3],"title":null,"labelOverlap":false}},"color":{"field":"b","type":"ordinal","scale":{"domain":[1,2,3,4,5,6,7,8],"range":["#2314f2","#5cb52b","#4f0a82","#cf1b21","#2314f2","#5cb52b","#4f0a82","#cf1b21"]},"legend":null}}},
{"data":{"name":"bars"},"transform":[{"filter":"datum.g == 'Ccl20' && datum.b > 4"}],"mark":{"type":"bar","orient":"vertical","size":12.6,"fill":"white","strokeWidth":2},"encoding":{"x":{"field":"b","type":"quantitative","axis":null},"y":{"field":"m","type":"quantitative","stack":null,"axis":null},"stroke":{"field":"b","type":"ordinal","scale":{"domain":[1,2,3,4,5,6,7,8],"range":["#2314f2","#5cb52b","#4f0a82","#cf1b21","#2314f2","#5cb52b","#4f0a82","#cf1b21"]},"legend":null}}},
{"data":{"name":"bars"},"transform":[{"filter":"datum.g == 'Ccl20'"}],"mark":{"type":"rule","strokeWidth":1.5},"encoding":{"x":{"field":"b","type":"quantitative","axis":null},"y":{"field":"m","type":"quantitative","axis":null},"y2":{"field":"h"},"color":{"field":"b","type":"ordinal","legend":null}}},
{"data":{"name":"bars"},"transform":[{"filter":"datum.g == 'Ccl20'"}],"mark":{"type":"tick","orient":"horizontal","size":8,"thickness":1.5},"encoding":{"x":{"field":"b","type":"quantitative","axis":null},"y":{"field":"h","type":"quantitative","axis":null},"color":{"field":"b","type":"ordinal","legend":null}}},
{"data":{"name":"sig"},"transform":[{"filter":"datum.g == 'Ccl20'"}],"mark":{"type":"rule","color":"#3a3a3a","strokeWidth":1.4},"encoding":{"x":{"field":"f","type":"quantitative","axis":null},"x2":{"field":"t"},"y":{"field":"y","type":"quantitative","axis":null}}},
{"data":{"name":"sig"},"transform":[{"filter":"datum.g == 'Ccl20'"},{"fold":["f","t"],"as":["k","pos"]}],"mark":{"type":"text","fontSize":11,"fontWeight":"bold","color":"#3a3a3a","baseline":"middle"},"encoding":{"x":{"field":"pos","aggregate":"mean","type":"quantitative","axis":null},"y":{"field":"y","type":"quantitative","axis":null},"text":{"field":"s"},"detail":{"field":"f","type":"nominal"}}},
{"data":{"name":"bars"},"transform":[{"filter":"datum.g == 'Ccl20' && datum.b == 1"}],"mark":{"type":"text","fontSize":15,"fontStyle":"italic","fontWeight":"bold","color":"black","baseline":"alphabetic","dy":-29},"encoding":{"x":{"datum":4.5,"axis":null},"y":{"datum":3,"axis":null},"text":{"field":"g"}}},
{"data":{"name":"grp"},"transform":[{"filter":"datum.tier == 1"}],"mark":{"type":"rule","color":"black","strokeWidth":1.3,"xOffset":-7.3,"x2Offset":7.3,"yOffset":16},"encoding":{"x":{"field":"a","type":"quantitative","axis":null},"x2":{"field":"z"},"y":{"datum":0,"axis":null}}},
{"data":{"name":"grp"},"transform":[{"filter":"datum.tier == 2"}],"mark":{"type":"rule","color":"black","strokeWidth":1.3,"xOffset":-7.3,"x2Offset":7.3,"yOffset":28},"encoding":{"x":{"field":"a","type":"quantitative","axis":null},"x2":{"field":"z"},"y":{"datum":0,"axis":null}}},
{"data":{"name":"grp"},"transform":[{"filter":"datum.tier == 1"},{"fold":["a","z"],"as":["k","pos"]}],"mark":{"type":"text","fontSize":10.5,"fontWeight":"bold","color":"black","baseline":"alphabetic","dy":25},"encoding":{"x":{"field":"pos","aggregate":"mean","type":"quantitative","axis":null},"y":{"datum":0,"axis":null},"text":{"field":"lab"},"detail":{"field":"a","type":"nominal"}}},
{"data":{"name":"grp"},"transform":[{"filter":"datum.tier == 2"},{"fold":["a","z"],"as":["k","pos"]}],"mark":{"type":"text","fontSize":10.5,"fontWeight":"bold","color":"black","baseline":"alphabetic","dy":38},"encoding":{"x":{"field":"pos","aggregate":"mean","type":"quantitative","axis":null},"y":{"datum":0,"axis":null},"text":{"field":"lab"},"detail":{"field":"a","type":"nominal"}}}
]},
{"width":160,"height":108,"resolve":{"axis":{"x":"independent","y":"independent"}},"layer":[
{"data":{"name":"bars"},"transform":[{"filter":"datum.g == 'Gpr132' && datum.b <= 4"}],"mark":{"type":"bar","orient":"vertical","size":14.6},"encoding":{"x":{"field":"b","type":"quantitative","scale":{"domain":[0.46,8.54],"nice":false,"zero":false},"axis":{"orient":"bottom","values":[1,2,3,4,5,6,7,8],"labelExpr":"datum.value % 2 == 1 ? 'CD' : 'WD'","labelFontSize":10.5,"labelPadding":1,"title":null,"tickSize":3,"labelOverlap":false,"labelFlush":false}},"y":{"field":"m","type":"quantitative","stack":null,"scale":{"domain":[0,3],"nice":false},"axis":{"orient":"left","values":[0,1,2,3],"title":null,"labelOverlap":false}},"color":{"field":"b","type":"ordinal","scale":{"domain":[1,2,3,4,5,6,7,8],"range":["#2314f2","#5cb52b","#4f0a82","#cf1b21","#2314f2","#5cb52b","#4f0a82","#cf1b21"]},"legend":null}}},
{"data":{"name":"bars"},"transform":[{"filter":"datum.g == 'Gpr132' && datum.b > 4"}],"mark":{"type":"bar","orient":"vertical","size":12.6,"fill":"white","strokeWidth":2},"encoding":{"x":{"field":"b","type":"quantitative","axis":null},"y":{"field":"m","type":"quantitative","stack":null,"axis":null},"stroke":{"field":"b","type":"ordinal","scale":{"domain":[1,2,3,4,5,6,7,8],"range":["#2314f2","#5cb52b","#4f0a82","#cf1b21","#2314f2","#5cb52b","#4f0a82","#cf1b21"]},"legend":null}}},
{"data":{"name":"bars"},"transform":[{"filter":"datum.g == 'Gpr132'"}],"mark":{"type":"rule","strokeWidth":1.5},"encoding":{"x":{"field":"b","type":"quantitative","axis":null},"y":{"field":"m","type":"quantitative","axis":null},"y2":{"field":"h"},"color":{"field":"b","type":"ordinal","legend":null}}},
{"data":{"name":"bars"},"transform":[{"filter":"datum.g == 'Gpr132'"}],"mark":{"type":"tick","orient":"horizontal","size":8,"thickness":1.5},"encoding":{"x":{"field":"b","type":"quantitative","axis":null},"y":{"field":"h","type":"quantitative","axis":null},"color":{"field":"b","type":"ordinal","legend":null}}},
{"data":{"name":"sig"},"transform":[{"filter":"datum.g == 'Gpr132'"}],"mark":{"type":"rule","color":"#3a3a3a","strokeWidth":1.4},"encoding":{"x":{"field":"f","type":"quantitative","axis":null},"x2":{"field":"t"},"y":{"field":"y","type":"quantitative","axis":null}}},
{"data":{"name":"sig"},"transform":[{"filter":"datum.g == 'Gpr132'"},{"fold":["f","t"],"as":["k","pos"]}],"mark":{"type":"text","fontSize":11,"fontWeight":"bold","color":"#3a3a3a","baseline":"middle"},"encoding":{"x":{"field":"pos","aggregate":"mean","type":"quantitative","axis":null},"y":{"field":"y","type":"quantitative","axis":null},"text":{"field":"s"},"detail":{"field":"f","type":"nominal"}}},
{"data":{"name":"bars"},"transform":[{"filter":"datum.g == 'Gpr132' && datum.b == 1"}],"mark":{"type":"text","fontSize":15,"fontStyle":"italic","fontWeight":"bold","color":"black","baseline":"alphabetic","dy":-29},"encoding":{"x":{"datum":4.5,"axis":null},"y":{"datum":3,"axis":null},"text":{"field":"g"}}},
{"data":{"name":"grp"},"transform":[{"filter":"datum.tier == 1"}],"mark":{"type":"rule","color":"black","strokeWidth":1.3,"xOffset":-7.3,"x2Offset":7.3,"yOffset":16},"encoding":{"x":{"field":"a","type":"quantitative","axis":null},"x2":{"field":"z"},"y":{"datum":0,"axis":null}}},
{"data":{"name":"grp"},"transform":[{"filter":"datum.tier == 2"}],"mark":{"type":"rule","color":"black","strokeWidth":1.3,"xOffset":-7.3,"x2Offset":7.3,"yOffset":28},"encoding":{"x":{"field":"a","type":"quantitative","axis":null},"x2":{"field":"z"},"y":{"datum":0,"axis":null}}},
{"data":{"name":"grp"},"transform":[{"filter":"datum.tier == 1"},{"fold":["a","z"],"as":["k","pos"]}],"mark":{"type":"text","fontSize":10.5,"fontWeight":"bold","color":"black","baseline":"alphabetic","dy":25},"encoding":{"x":{"field":"pos","aggregate":"mean","type":"quantitative","axis":null},"y":{"datum":0,"axis":null},"text":{"field":"lab"},"detail":{"field":"a","type":"nominal"}}},
{"data":{"name":"grp"},"transform":[{"filter":"datum.tier == 2"},{"fold":["a","z"],"as":["k","pos"]}],"mark":{"type":"text","fontSize":10.5,"fontWeight":"bold","color":"black","baseline":"alphabetic","dy":38},"encoding":{"x":{"field":"pos","aggregate":"mean","type":"quantitative","axis":null},"y":{"datum":0,"axis":null},"text":{"field":"lab"},"detail":{"field":"a","type":"nominal"}}}
]}
], "spacing": 22, "bounds": "flush"}
],
"config": {
"view": {"stroke": null},
"font": "Liberation Sans",
"axis": {"grid": false, "domainColor": "black", "tickColor": "black", "labelColor": "black", "labelFont": "Liberation Sans", "labelFontWeight": "bold", "labelFontSize": 12, "domainWidth": 1.5, "tickWidth": 1.5},
"axisY": {"tickSize": 4, "labelPadding": 2, "minExtent": 22, "maxExtent": 22, "domainWidth": 2},
"axisX": {"labelFlush": false, "labelOverlap": false}
}
}
